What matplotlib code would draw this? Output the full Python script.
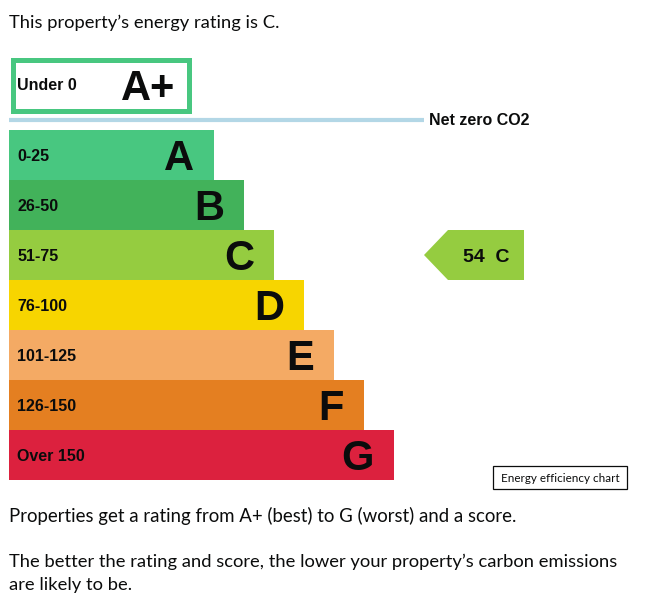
import matplotlib
matplotlib.use("Agg")
import matplotlib.pyplot as plt
from matplotlib.patches import Rectangle, Polygon

# data
band_letters = ["A", "B", "C", "D", "E", "F", "G"]
band_ranges = ["0-25", "26-50", "51-75", "76-100", "101-125", "126-150", "Over 150"]
band_colors = ["#48c780", "#42b25a", "#95cc40", "#f7d500", "#f4aa64", "#e47f21", "#dc213e"]
top_band = "A+"
top_range = "Under 0"
score = 54
rating = "C"

title = "This property\u2019s energy rating is C."
para1 = "Properties get a rating from A+ (best) to G (worst) and a score."
para2 = ["The better the rating and score, the lower your property\u2019s carbon emissions",
         "are likely to be."]

TEXT = "#0b0c0c"
BODY_FONT = "Lato"
BOLD_FONT = "Liberation Sans"

fig = plt.figure(figsize=(6.5, 5.93), dpi=100)
ax = fig.add_axes([0, 0, 1, 1])
ax.set_xlim(0, 650)
ax.set_ylim(593, 0)
ax.axis("off")
renderer = fig.canvas.get_renderer()


def fit_text(x, y, s, width, size, **kw):
    # shrink/grow the font so the string spans the wanted pixel width
    t = ax.text(x, y, s, fontsize=size, **kw)
    w = t.get_window_extent(renderer).width
    t.set_fontsize(size * width / w)
    return t


fit_text(9, 28, title, 270, 13, family=BODY_FONT, color=TEXT, va="baseline")

# A+ band (outlined box)
ax.add_patch(Rectangle((12.5, 59.5), 176, 51, facecolor="white",
                       edgecolor=band_colors[0], lw=3.6))
ax.text(17, 90, top_range, family=BOLD_FONT, weight="bold", fontsize=11.5,
        color=TEXT, va="baseline")
ax.text(175, 100, top_band, family=BOLD_FONT, weight="bold", fontsize=30,
        color=TEXT, va="baseline", ha="right")

# net zero line
ax.plot([9, 424], [119.5, 119.5], color="#b3d7e6", lw=3, solid_capstyle="butt")
ax.text(429, 125, "Net zero CO2", family=BOLD_FONT, weight="bold", fontsize=11.5,
        color=TEXT, va="baseline")

# rating bands
centers = [155 + 50 * i for i in range(len(band_letters))]
lengths = [205 + 30 * i for i in range(len(band_letters))]
ax.barh(centers, lengths, left=9, height=50, color=band_colors, linewidth=0)
for c, ln, letter, rng in zip(centers, lengths, band_letters, band_ranges):
    ax.text(17, c + 6, rng, family=BOLD_FONT, weight="bold", fontsize=11.5,
            color=TEXT, va="baseline")
    ax.text(9 + ln - 20, c + 15, letter, family=BOLD_FONT, weight="bold",
            fontsize=30, color=TEXT, va="baseline", ha="right")

# current rating arrow
cy = centers[band_letters.index(rating)]
ax.add_patch(Polygon([(424, cy), (448, cy - 25), (524, cy - 25), (524, cy + 25),
                      (448, cy + 25)], closed=True,
                     facecolor=band_colors[band_letters.index(rating)], lw=0))
ax.text(486, cy + 7, f"{score}  {rating}", family=BOLD_FONT, weight="bold",
        fontsize=14, color=TEXT, va="baseline", ha="center")

# caption box
ax.add_patch(Rectangle((493, 466), 134, 23, facecolor="white", edgecolor=TEXT, lw=0.9))
fit_text(560, 481.5, "Energy efficiency chart", 117, 8.5, family=BODY_FONT,
         color=TEXT, ha="center", va="baseline")

fit_text(9, 522, para1, 508, 13, family=BODY_FONT, color=TEXT, va="baseline")
fit_text(9, 567, para2[0], 608, 13, family=BODY_FONT, color=TEXT, va="baseline")
t = ax.text(9, 590, para2[1], family=BODY_FONT, color=TEXT, va="baseline")
t.set_fontsize(ax.texts[-2].get_fontsize())

fig.savefig("out.png", dpi=100)
